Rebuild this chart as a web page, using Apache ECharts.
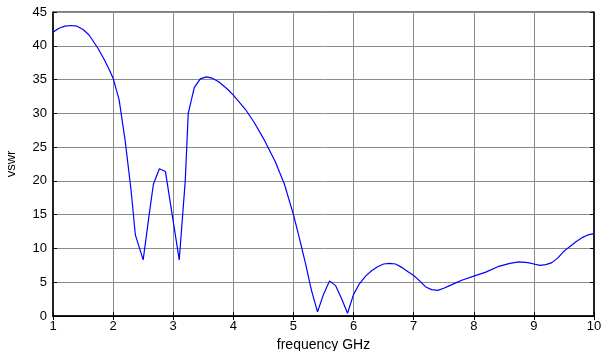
<!DOCTYPE html>
<html>
<head>
<meta charset="utf-8">
<script src="https://cdn.jsdelivr.net/npm/echarts@6/dist/echarts.min.js"></script>
<style>
  html, body { margin: 0; padding: 0; background: #fff; }
  #chart { width: 603px; height: 351px; }
</style>
</head>
<body>
<div id="chart"></div>
<script>
// frequency (GHz) and vswr
var freq = [1.0, 1.1, 1.2, 1.3, 1.4, 1.5, 1.6, 1.75, 1.85, 1.95, 2.0, 2.1, 2.2, 2.3, 2.37, 2.5,
  2.6, 2.67, 2.77, 2.87, 3.0, 3.1, 3.2, 3.25, 3.35, 3.45, 3.55, 3.65, 3.75, 3.9, 4.0, 4.2, 4.35,
  4.5, 4.7, 4.85, 5.0, 5.1, 5.2, 5.3, 5.4, 5.5, 5.6, 5.7, 5.8, 5.9, 6.0, 6.1, 6.2, 6.3, 6.4,
  6.5, 6.6, 6.7, 6.8, 6.9, 7.0, 7.1, 7.2, 7.3, 7.4, 7.5, 7.6, 7.7, 7.8, 8.0, 8.2, 8.4, 8.6,
  8.75, 8.9, 9.0, 9.1, 9.2, 9.3, 9.4, 9.5, 9.6, 9.7, 9.8, 9.9, 10.0];
var vswr = [42.0, 42.6, 42.9, 43.0, 42.9, 42.4, 41.6, 39.6, 38.0, 36.2, 35.2, 32.0, 26.0, 18.5, 12.0, 8.3,
  15.0, 19.5, 21.8, 21.4, 14.0, 8.3, 20.0, 30.0, 33.8, 35.1, 35.4, 35.2, 34.7, 33.6, 32.7, 30.6, 28.6,
  26.3, 22.8, 19.5, 15.0, 11.5, 7.8, 3.8, 0.6, 3.2, 5.2, 4.5, 2.6, 0.4, 3.2, 4.8, 5.9, 6.7, 7.3,
  7.7, 7.8, 7.7, 7.2, 6.6, 6.0, 5.2, 4.3, 3.9, 3.8, 4.1, 4.5, 4.9, 5.3, 5.9, 6.5, 7.3, 7.8,
  8.0, 7.9, 7.7, 7.5, 7.6, 7.9, 8.6, 9.6, 10.3, 11.0, 11.6, 12.0, 12.2];

var points = freq.map(function (f, i) { return [f, vswr[i]]; });

var myChart = echarts.init(document.getElementById("chart"));
var gridColor = "#8a8a8a";
var font = "Liberation Sans";

myChart.setOption({
  animation: false,
  backgroundColor: "#fff",
  grid: {
    left: 53,
    right: 9,
    top: 12,
    bottom: 35,
    outerBoundsMode: "none",
    containLabel: false,
    show: true,
    borderColor: "#000",
    borderWidth: 1
  },
  xAxis: [
    {
      type: "value",
      min: 1,
      max: 10,
      interval: 1,
      name: "frequency GHz",
      nameLocation: "middle",
      nameGap: 18,
      nameTextStyle: { fontFamily: font, fontSize: 14, color: "#000" },
      axisLine: { lineStyle: { color: "#000", width: 1.5 } },
      axisTick: { inside: true, length: 4, lineStyle: { color: "#000" } },
      axisLabel: { fontFamily: font, fontSize: 13, color: "#000", margin: 4 },
      splitLine: { show: true, lineStyle: { color: gridColor, width: 1 } }
    },
    {
      type: "value",
      position: "top",
      min: 1,
      max: 10,
      interval: 1,
      axisLine: { show: true, lineStyle: { color: "#000" } },
      axisTick: { inside: true, length: 4, lineStyle: { color: "#000" } },
      axisLabel: { show: false },
      splitLine: { show: false }
    }
  ],
  yAxis: [
    {
      type: "value",
      min: 0,
      max: 45,
      interval: 5,
      name: "vswr",
      nameLocation: "middle",
      nameGap: 35,
      nameTextStyle: { fontFamily: font, fontSize: 13, color: "#000" },
      axisLine: { show: true, lineStyle: { color: "#000", width: 1.5 } },
      axisTick: { show: true, inside: true, length: 4, lineStyle: { color: "#000" } },
      axisLabel: { fontFamily: font, fontSize: 13, color: "#000", margin: 6 },
      splitLine: { show: true, lineStyle: { color: gridColor, width: 1 } }
    },
    {
      type: "value",
      position: "right",
      min: 0,
      max: 45,
      interval: 5,
      axisLine: { show: true, lineStyle: { color: "#000", width: 1.5 } },
      axisTick: { show: true, inside: true, length: 4, lineStyle: { color: "#000" } },
      axisLabel: { show: false },
      splitLine: { show: false }
    }
  ],
  series: [
    {
      type: "line",
      data: points,
      showSymbol: false,
      symbol: "none",
      lineStyle: { color: "#0000ff", width: 1.2 },
      smooth: false
    }
  ]
});
</script>
</body>
</html>
